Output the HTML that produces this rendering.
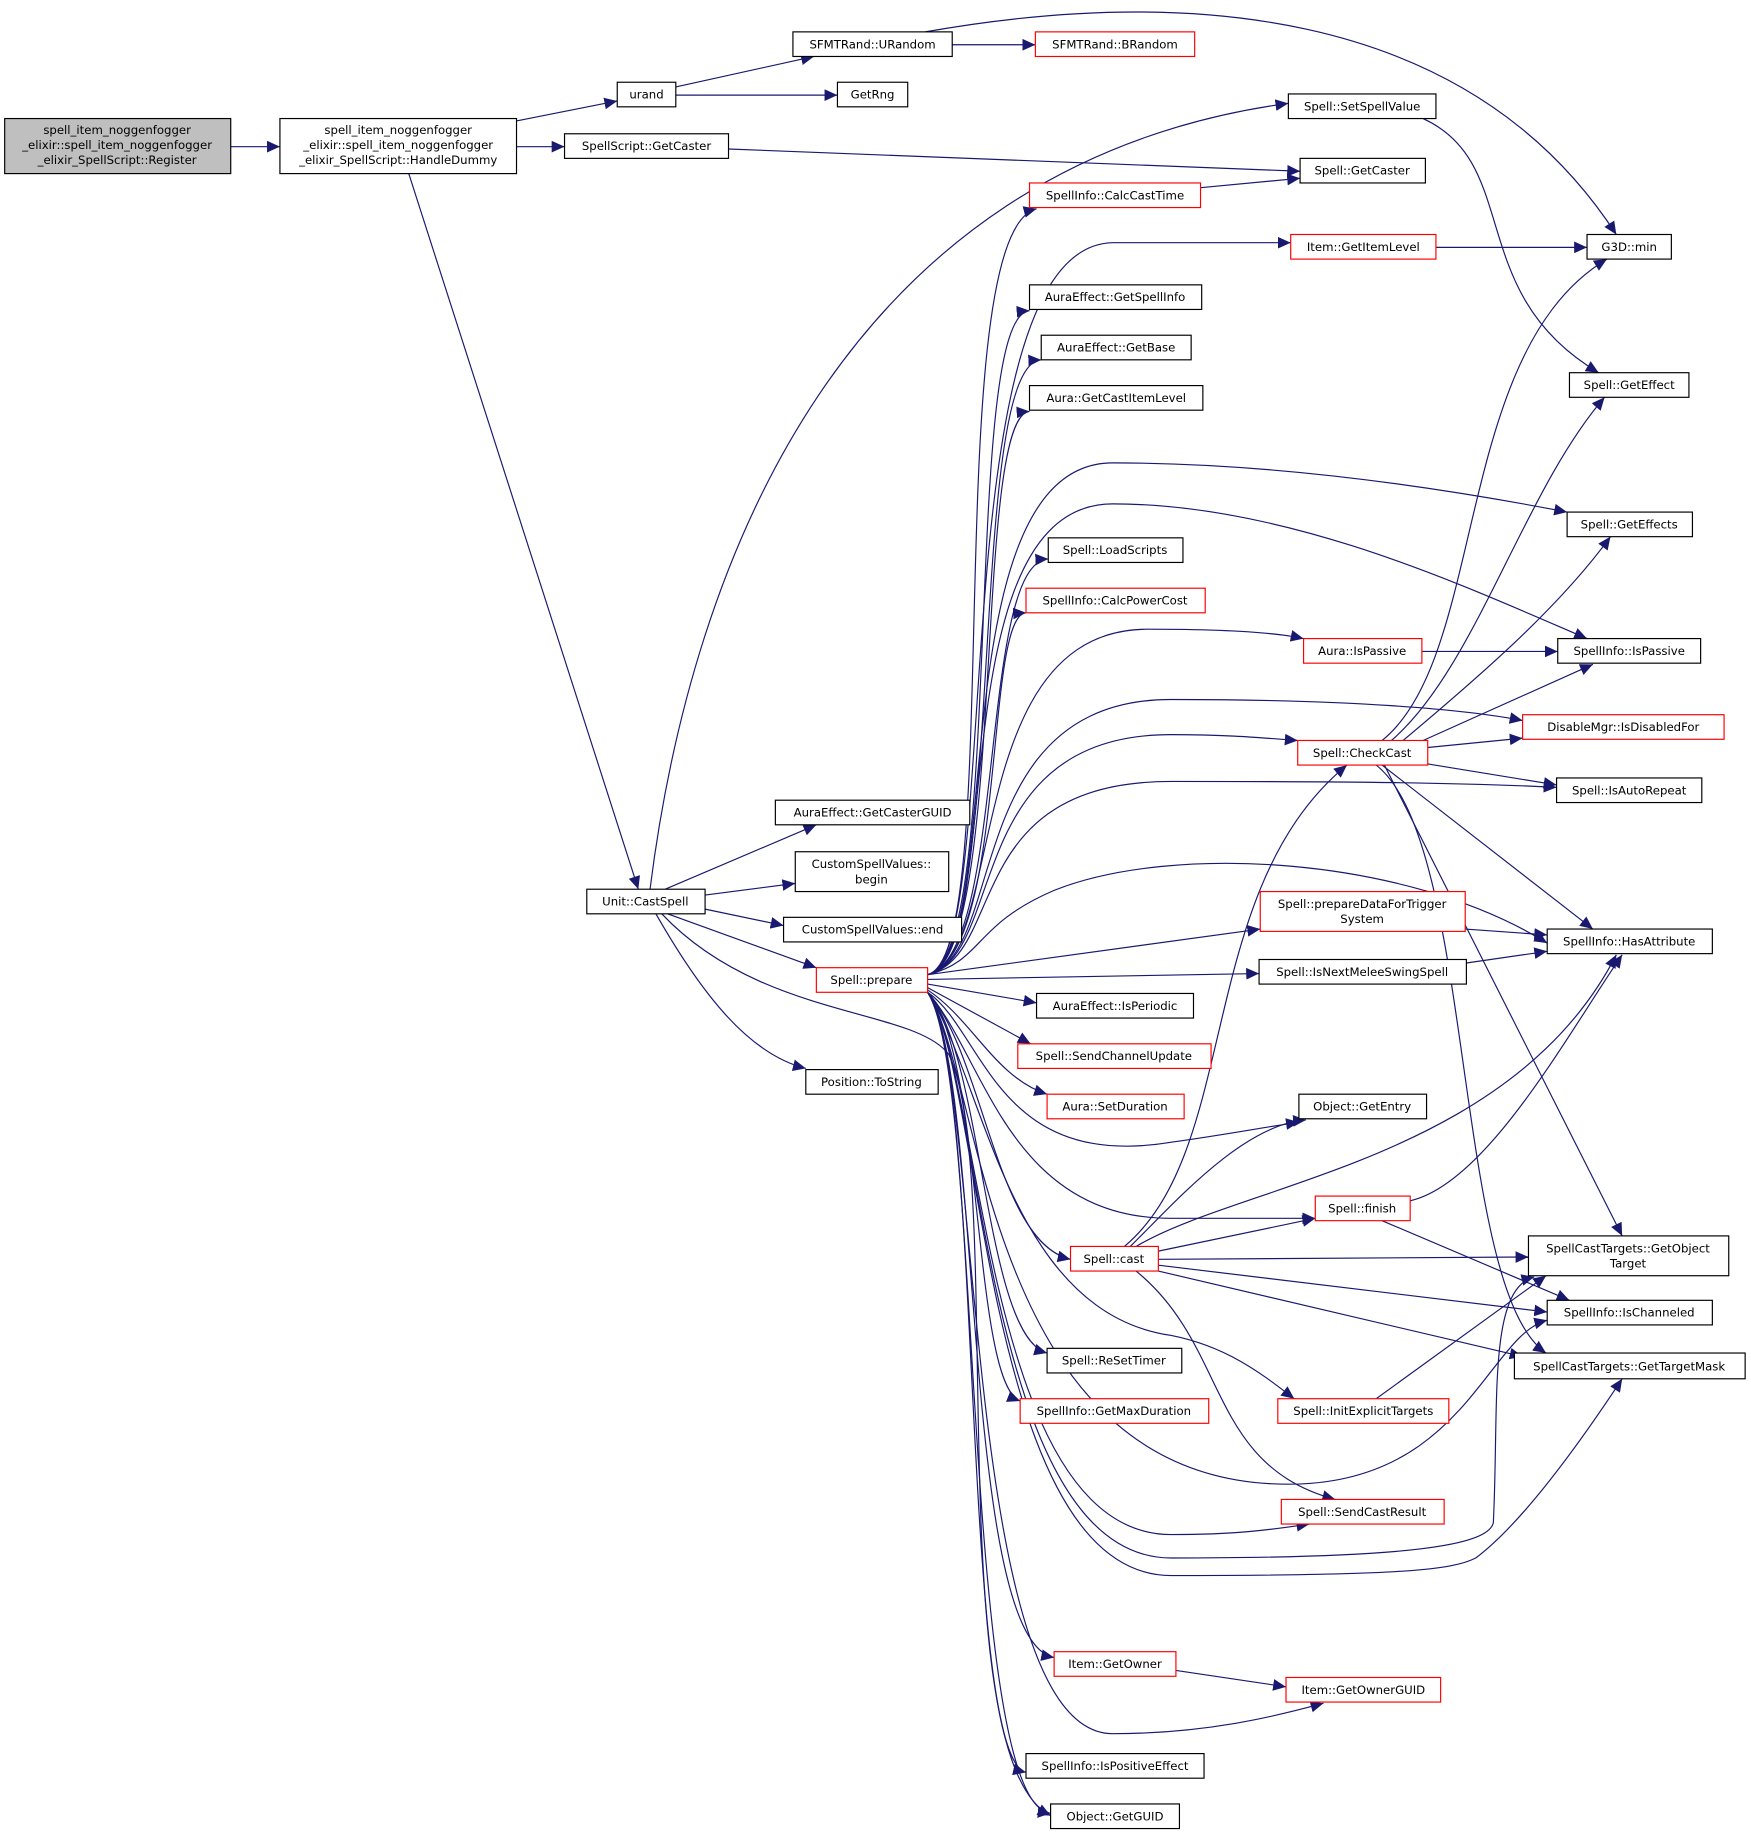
<!DOCTYPE html>
<html><head><meta charset="utf-8"><style>
html,body{margin:0;padding:0;background:#fff;}
svg{display:block;}
text{font-family:"DejaVu Sans","Liberation Sans",sans-serif;font-size:10px;fill:#000;text-anchor:middle;}
.n{fill:#fff;stroke:#000;stroke-width:1;}
.r{fill:#fff;stroke:#ff0000;stroke-width:1;}
.e{fill:none;stroke:#191970;stroke-width:1;marker-end:url(#a);}
</style></head><body>
<svg width="1751" height="1837" viewBox="0 0 1495 1568" xmlns="http://www.w3.org/2000/svg">
<defs><marker id="a" markerUnits="userSpaceOnUse" markerWidth="12" markerHeight="10" refX="11" refY="5" orient="auto"><path d="M0,0 L11,5 L0,10 z" fill="#191970"/></marker></defs>
<g>
<path class="e" d="M197,125 L239,125"/>
<path class="e" d="M441,103 L527,86"/>
<path class="e" d="M441,125 L482,125"/>
<path class="e" d="M349,148 L545,759"/>
<path class="e" d="M577,74 L695,48"/>
<path class="e" d="M577,81 L715,81"/>
<path class="e" d="M813,38 L884,38"/>
<path class="e" d="M790,27 C1000,-10 1250,0 1380,200"/>
<path class="e" d="M622,127 L1110,146"/>
<path class="e" d="M1215,101 C1300,140 1250,250 1365,318"/>
<path class="e" d="M1025,160 L1110,152"/>
<path class="e" d="M1226,211 L1355,211"/>
<path class="e" d="M1214,556 L1330,556"/>
<path class="e" d="M1180,632 C1270,560 1240,300 1372,221"/>
<path class="e" d="M1188,632 C1260,570 1300,420 1370,339"/>
<path class="e" d="M1198,632 C1260,580 1330,520 1375,458"/>
<path class="e" d="M1215,632 L1360,567"/>
<path class="e" d="M1219,638 L1300,630"/>
<path class="e" d="M1219,652 L1329,670"/>
<path class="e" d="M1180,653 L1360,793"/>
<path class="e" d="M1182,653 L1385,1055"/>
<path class="e" d="M1175,653 C1260,720 1240,1100 1320,1155"/>
<path class="e" d="M1251,793 L1321,798"/>
<path class="e" d="M1252,822 L1321,812"/>
<path class="e" d="M1204,1025 C1270,1010 1340,880 1385,815"/>
<path class="e" d="M1180,1042 L1340,1110"/>
<path class="e" d="M960,1064 C1060,980 1020,760 1150,653"/>
<path class="e" d="M965,1064 C1000,1030 1060,960 1115,956"/>
<path class="e" d="M970,1064 C1060,1010 1290,990 1380,815"/>
<path class="e" d="M989,1068 L1123,1040"/>
<path class="e" d="M989,1075 L1305,1073"/>
<path class="e" d="M989,1080 L1321,1120"/>
<path class="e" d="M989,1085 L1300,1158"/>
<path class="e" d="M970,1085 C1050,1150 1030,1250 1140,1280"/>
<path class="e" d="M1175,1194 L1320,1089"/>
<path class="e" d="M1004,1426 L1098,1440"/>
<path class="e" d="M568,759 L697,704"/>
<path class="e" d="M602,764 L679,754"/>
<path class="e" d="M602,776 L669,790"/>
<path class="e" d="M570,780 L697,826"/>
<path class="e" d="M560,780 C600,850 640,900 688,912"/>
<path class="e" d="M555,759 C590,480 720,140 1100,88"/>
<path class="e" d="M565,780 C650,870 780,860 810,900 C860,1000 800,1500 897,1550"/>
<path class="e" d="M792,832 C860,815 800,200 885,178"/>
<path class="e" d="M792,832 C860,815 800,210 950,207 L1102,207"/>
<path class="e" d="M792,832 C860,815 820,270 879,265"/>
<path class="e" d="M792,832 C860,815 825,310 889,307"/>
<path class="e" d="M792,832 C860,815 830,355 879,351"/>
<path class="e" d="M792,832 C860,815 800,395 950,395 C1100,395 1250,420 1338,437"/>
<path class="e" d="M792,832 C860,815 800,430 950,430 C1100,430 1250,500 1355,545"/>
<path class="e" d="M792,832 C860,815 835,480 895,477"/>
<path class="e" d="M792,832 C860,815 840,525 876,523"/>
<path class="e" d="M792,832 C860,815 820,537 980,537 C1050,537 1090,540 1113,545"/>
<path class="e" d="M792,832 C860,815 820,597 1000,597 C1150,597 1250,605 1300,615"/>
<path class="e" d="M792,832 C860,815 820,627 1000,627 C1050,627 1080,630 1108,632"/>
<path class="e" d="M792,832 C860,815 820,667 1000,667 C1150,667 1250,668 1329,672"/>
<path class="e" d="M792,832 C840,820 830,790 900,760 C1000,720 1200,730 1321,805"/>
<path class="e" d="M792,832 L1076,793"/>
<path class="e" d="M792,836 L1075,831"/>
<path class="e" d="M792,840 L885,856"/>
<path class="e" d="M792,843 L880,891"/>
<path class="e" d="M792,845 C830,870 850,920 894,934"/>
<path class="e" d="M792,847 C840,880 850,1000 1000,975 C1050,968 1080,962 1109,958"/>
<path class="e" d="M792,847 C840,900 860,1040 1000,1040 L1123,1040"/>
<path class="e" d="M792,847 C840,900 850,1060 914,1075"/>
<path class="e" d="M792,847 C840,920 860,1120 1000,1140 C1050,1150 1080,1175 1105,1194"/>
<path class="e" d="M792,847 C840,900 840,1140 894,1155"/>
<path class="e" d="M792,847 C840,900 830,1180 871,1196"/>
<path class="e" d="M792,847 C840,920 840,1267 1100,1267 C1250,1267 1270,1140 1321,1127"/>
<path class="e" d="M792,847 C840,920 840,1310 1000,1310 C1060,1310 1090,1305 1118,1301"/>
<path class="e" d="M792,847 C840,920 840,1330 1000,1330 C1200,1330 1270,1320 1275,1300 C1280,1200 1270,1100 1310,1090"/>
<path class="e" d="M792,847 C840,920 840,1345 1000,1345 C1200,1345 1240,1340 1260,1330 C1300,1300 1350,1230 1385,1177"/>
<path class="e" d="M792,847 C840,920 820,1400 900,1415"/>
<path class="e" d="M792,847 C840,920 820,1480 950,1480 C1030,1480 1090,1465 1130,1454"/>
<path class="e" d="M792,847 C840,920 820,1500 876,1513"/>
<path class="e" d="M792,847 C840,920 820,1540 897,1548"/>
</g>
<g>
<rect x="4" y="101" width="193" height="47" fill="#bfbfbf" stroke="#000"/>
<text x="100" y="114">spell_item_noggenfogger</text><text x="100" y="127">_elixir::spell_item_noggenfogger</text><text x="100" y="140">_elixir_SpellScript::Register</text>
<rect class="n" x="239" y="101" width="202" height="47"/>
<text x="340" y="114">spell_item_noggenfogger</text><text x="340" y="127">_elixir::spell_item_noggenfogger</text><text x="340" y="140">_elixir_SpellScript::HandleDummy</text>
<rect class="n" x="527" y="70" width="50" height="21"/><text x="552" y="84">urand</text>
<rect class="n" x="677" y="27" width="136" height="21"/><text x="745" y="41">SFMTRand::URandom</text>
<rect class="r" x="884" y="27" width="136" height="21"/><text x="952" y="41">SFMTRand::BRandom</text>
<rect class="n" x="715" y="70" width="60" height="21"/><text x="745" y="84">GetRng</text>
<rect class="n" x="482" y="114" width="140" height="21"/><text x="552" y="128">SpellScript::GetCaster</text>
<rect class="n" x="1100" y="80" width="126" height="21"/><text x="1163" y="94">Spell::SetSpellValue</text>
<rect class="n" x="1110" y="135" width="107" height="21"/><text x="1163" y="149">Spell::GetCaster</text>
<rect class="r" x="879" y="156" width="146" height="21"/><text x="952" y="170">SpellInfo::CalcCastTime</text>
<rect class="r" x="1102" y="200" width="124" height="21"/><text x="1164" y="214">Item::GetItemLevel</text>
<rect class="n" x="1355" y="200" width="72" height="21"/><text x="1391" y="214">G3D::min</text>
<rect class="n" x="879" y="243" width="147" height="21"/><text x="952" y="257">AuraEffect::GetSpellInfo</text>
<rect class="n" x="889" y="286" width="128" height="21"/><text x="953" y="300">AuraEffect::GetBase</text>
<rect class="n" x="879" y="329" width="148" height="21"/><text x="953" y="343">Aura::GetCastItemLevel</text>
<rect class="n" x="1340" y="318" width="102" height="21"/><text x="1391" y="332">Spell::GetEffect</text>
<rect class="n" x="1338" y="437" width="107" height="21"/><text x="1391" y="451">Spell::GetEffects</text>
<rect class="n" x="895" y="459" width="115" height="21"/><text x="952" y="473">Spell::LoadScripts</text>
<rect class="r" x="876" y="502" width="153" height="21"/><text x="952" y="516">SpellInfo::CalcPowerCost</text>
<rect class="r" x="1113" y="545" width="101" height="21"/><text x="1163" y="559">Aura::IsPassive</text>
<rect class="n" x="1330" y="545" width="122" height="21"/><text x="1391" y="559">SpellInfo::IsPassive</text>
<rect class="r" x="1300" y="610" width="172" height="21"/><text x="1386" y="624">DisableMgr::IsDisabledFor</text>
<rect class="r" x="1108" y="632" width="111" height="21"/><text x="1163" y="646">Spell::CheckCast</text>
<rect class="n" x="1329" y="664" width="124" height="21"/><text x="1391" y="678">Spell::IsAutoRepeat</text>
<rect class="n" x="662" y="683" width="166" height="21"/><text x="745" y="697">AuraEffect::GetCasterGUID</text>
<rect class="n" x="679" y="727" width="131" height="34"/><text x="744" y="741">CustomSpellValues::</text><text x="744" y="754">begin</text>
<rect class="n" x="501" y="759" width="101" height="21"/><text x="551" y="773">Unit::CastSpell</text>
<rect class="n" x="669" y="783" width="152" height="21"/><text x="745" y="797">CustomSpellValues::end</text>
<rect class="r" x="1076" y="761" width="175" height="34"/><text x="1163" y="775">Spell::prepareDataForTrigger</text><text x="1163" y="788">System</text>
<rect class="n" x="1321" y="793" width="141" height="21"/><text x="1391" y="807">SpellInfo::HasAttribute</text>
<rect class="r" x="697" y="826" width="95" height="21"/><text x="744" y="840">Spell::prepare</text>
<rect class="n" x="1075" y="819" width="177" height="21"/><text x="1163" y="833">Spell::IsNextMeleeSwingSpell</text>
<rect class="n" x="885" y="848" width="134" height="21"/><text x="952" y="862">AuraEffect::IsPeriodic</text>
<rect class="r" x="869" y="891" width="165" height="21"/><text x="951" y="905">Spell::SendChannelUpdate</text>
<rect class="n" x="688" y="913" width="113" height="21"/><text x="744" y="927">Position::ToString</text>
<rect class="r" x="894" y="934" width="117" height="21"/><text x="952" y="948">Aura::SetDuration</text>
<rect class="n" x="1109" y="934" width="109" height="21"/><text x="1163" y="948">Object::GetEntry</text>
<rect class="r" x="1123" y="1021" width="81" height="21"/><text x="1163" y="1035">Spell::finish</text>
<rect class="n" x="1305" y="1055" width="171" height="34"/><text x="1390" y="1069">SpellCastTargets::GetObject</text><text x="1390" y="1082">Target</text>
<rect class="r" x="914" y="1064" width="75" height="21"/><text x="951" y="1078">Spell::cast</text>
<rect class="n" x="1321" y="1110" width="141" height="21"/><text x="1391" y="1124">SpellInfo::IsChanneled</text>
<rect class="n" x="1293" y="1155" width="197" height="22"/><text x="1391" y="1170">SpellCastTargets::GetTargetMask</text>
<rect class="n" x="894" y="1151" width="115" height="21"/><text x="951" y="1165">Spell::ReSetTimer</text>
<rect class="r" x="871" y="1194" width="161" height="21"/><text x="951" y="1208">SpellInfo::GetMaxDuration</text>
<rect class="r" x="1091" y="1194" width="146" height="21"/><text x="1164" y="1208">Spell::InitExplicitTargets</text>
<rect class="r" x="1094" y="1280" width="139" height="21"/><text x="1163" y="1294">Spell::SendCastResult</text>
<rect class="r" x="900" y="1410" width="104" height="21"/><text x="952" y="1424">Item::GetOwner</text>
<rect class="r" x="1098" y="1432" width="132" height="21"/><text x="1164" y="1446">Item::GetOwnerGUID</text>
<rect class="n" x="876" y="1497" width="152" height="21"/><text x="952" y="1511">SpellInfo::IsPositiveEffect</text>
<rect class="n" x="897" y="1540" width="110" height="21"/><text x="952" y="1554">Object::GetGUID</text>
</g>
</svg>
</body></html>
